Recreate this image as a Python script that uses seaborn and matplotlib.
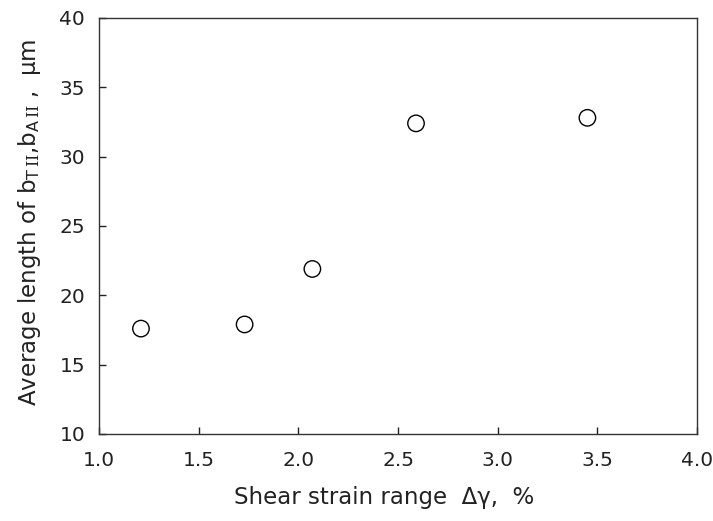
import matplotlib
matplotlib.use('Agg')
import matplotlib.pyplot as plt
import seaborn as sns
import pandas as pd

# data
strain_range = [1.21, 1.73, 2.07, 2.59, 3.45]
avg_length = [17.6, 17.9, 21.9, 32.4, 32.8]

x_ticks = [1.0, 1.5, 2.0, 2.5, 3.0, 3.5, 4.0]
y_ticks = [10, 15, 20, 25, 30, 35, 40]

sns.set_style('white')
plt.rcParams['font.family'] = ['DejaVu Sans']
plt.rcParams['mathtext.fontset'] = 'custom'
plt.rcParams['mathtext.rm'] = 'DejaVu Serif'
plt.rcParams['mathtext.sf'] = 'DejaVu Sans'

df = pd.DataFrame({'strain': strain_range, 'length': avg_length})

fig = plt.figure(figsize=(7.13, 5.21), dpi=100)
ax = fig.add_axes([0.139, 0.167, 0.8386, 0.7985])

sns.scatterplot(data=df, x='strain', y='length', ax=ax, s=140,
                facecolor='none', edgecolor='black', linewidth=1.0)

ax.set_xlim(1.0, 4.0)
ax.set_ylim(10, 40)
ax.set_xticks(x_ticks)
ax.set_yticks(y_ticks)
ax.set_xticklabels([f'{v:.1f}' for v in x_ticks])
ax.tick_params(direction='in', length=5, width=1, labelsize=14.5, colors='#222222',
               top=False, right=False, bottom=True, left=True, pad=10)
ax.tick_params(axis='x', pad=12)

for sp in ax.spines.values():
    sp.set_color('#333333')
    sp.set_linewidth(1.0)

ax.set_xlabel('Shear strain range  Δγ,  %', fontsize=16.5, color='#222222', labelpad=12)
ax.set_ylabel(r'Average length of b$_{\mathsf{T}\,\mathrm{II}}$,b$_{\mathsf{A}\,\mathrm{II}}$ ,  μm',
              fontsize=16.5, color='#222222', labelpad=12)
ax.xaxis.set_label_coords(0.477, -0.125)
ax.yaxis.label.set_y(0.51)

fig.savefig('out.png', dpi=100)
